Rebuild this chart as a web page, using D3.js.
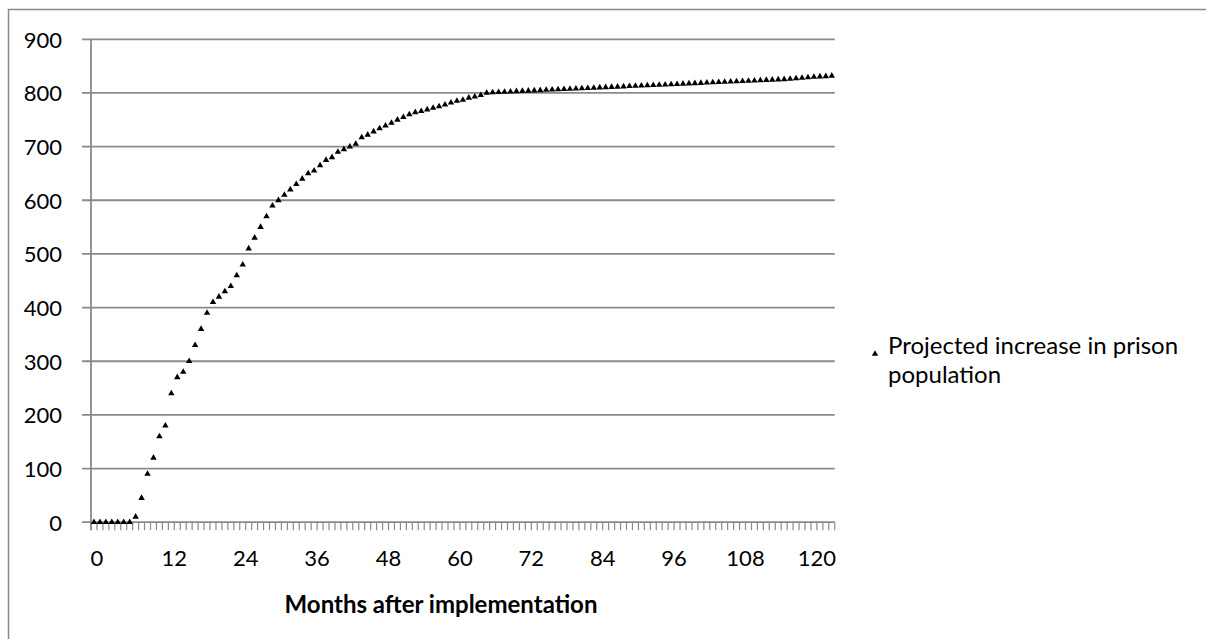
<!DOCTYPE html>
<html>
<head>
<meta charset="utf-8">
<script src="https://cdn.jsdelivr.net/npm/d3@7"></script>
<style>
  html, body { margin: 0; padding: 0; background: #fff; }
  svg { display: block; }
  text { font-family: Lato, "Open Sans", sans-serif; fill: #000; }
</style>
</head>
<body>
<svg id="chart" width="1206" height="639"></svg>
<script>
// ---- data ----
const seriesName = "Projected increase in prison population";
const xTitle = "Months after implementation";
const xTickLabels = [0, 12, 24, 36, 48, 60, 72, 84, 96, 108, 120];
const yTickLabels = [0, 100, 200, 300, 400, 500, 600, 700, 800, 900];
const prisonIncrease = [
  0, 0, 0, 0, 0, 0, 0, 10, 45, 90,
  120, 160, 180, 240, 270, 280, 300, 330, 360, 390,
  410, 420, 430, 440, 460, 480, 510, 530, 550, 570,
  590, 600, 610, 620, 630, 640, 650, 655, 665, 675,
  680, 690, 695, 700, 705, 717, 722, 728, 734, 739,
  744, 750, 755, 760, 764, 766, 769, 772, 775, 778,
  782, 785, 787, 791, 793, 796, 800, 801, 801.5, 802,
  802.5, 803, 803.5, 804, 804.5, 805, 805.5, 806, 806.5, 807,
  807.5, 808, 808.5, 809, 809.5, 810, 810.5, 811, 811.5, 812,
  812.5, 813, 813.5, 814, 814.5, 815, 815.5, 816, 816.5, 817,
  817.5, 818, 818.5, 819, 819.5, 820, 820.5, 821, 821.5, 822,
  822.5, 823, 823.5, 824, 824.5, 825, 825.5, 826, 827, 828,
  829, 830, 830.5, 831, 832
];

// ---- layout ----
const svg = d3.select("#chart");
const plot = { left: 91, top: 39.3, bottom: 522.2 };
const nCat = prisonIncrease.length;
const catW = 5.95;

const x = d3.scaleLinear().domain([-0.5, nCat - 0.5]).range([plot.left, plot.left + nCat * catW]);
const y = d3.scaleLinear().domain([0, 900]).range([plot.bottom, plot.top]);
const plotRight = x(nCat - 0.5);

const gridColor = "#8a8a8a";

// outer chart border
svg.append("path")
  .attr("d", "M8.5,640 L8.5,9.5 L1207,9.5")
  .attr("fill", "none").attr("stroke", "#8a8a8a").attr("stroke-width", 1.5);

// horizontal gridlines + y tick marks
const yG = svg.append("g");
yG.selectAll("line.grid").data(yTickLabels).join("line")
  .attr("class", "grid")
  .attr("x1", plot.left - 9).attr("x2", plotRight)
  .attr("y1", d => y(d)).attr("y2", d => y(d))
  .attr("stroke", gridColor).attr("stroke-width", 1.8);
yG.selectAll("text").data(yTickLabels).join("text")
  .attr("x", 62).attr("y", d => y(d))
  .attr("text-anchor", "end").attr("dominant-baseline", "central")
  .attr("font-size", 22)
  .text(d => d);

// y axis line
svg.append("line")
  .attr("x1", plot.left).attr("x2", plot.left)
  .attr("y1", plot.top).attr("y2", plot.bottom + 8)
  .attr("stroke", gridColor).attr("stroke-width", 1.8);

// x axis minor ticks at category boundaries
const boundaries = d3.range(nCat + 1).map(i => i - 0.5);
svg.append("g").selectAll("line").data(boundaries).join("line")
  .attr("x1", d => x(d)).attr("x2", d => x(d))
  .attr("y1", plot.bottom).attr("y2", plot.bottom + 8)
  .attr("stroke", gridColor).attr("stroke-width", 1.2);

// x tick labels
svg.append("g").selectAll("text").data(xTickLabels).join("text")
  .attr("x", d => x(d === 0 ? 0.5 : d + 1.5))
  .attr("y", 557)
  .attr("text-anchor", "middle").attr("dominant-baseline", "central")
  .attr("font-size", 22)
  .text(d => d);

// x axis title
svg.append("text")
  .attr("x", 441).attr("y", 603)
  .attr("text-anchor", "middle").attr("dominant-baseline", "central")
  .attr("font-size", 24).attr("font-weight", "bold")
  .text(xTitle);

// markers
const tri = d3.symbol().type(d3.symbolTriangle).size(18);
svg.append("g").selectAll("path").data(prisonIncrease).join("path")
  .attr("d", tri)
  .attr("transform", (d, i) => `translate(${x(i)},${y(d)})`)
  .attr("fill", "#000");

// legend
const leg = svg.append("g");
leg.append("path").attr("d", tri).attr("transform", "translate(875,354)").attr("fill", "#000");
const words = seriesName.split(" ");
const lines = [words.slice(0, 4).join(" "), words.slice(4).join(" ")];
leg.selectAll("text").data(lines).join("text")
  .attr("x", 888).attr("y", (d, i) => 344 + i * 29)
  .attr("dominant-baseline", "central")
  .attr("font-size", 24)
  .text(d => d);
</script>
</body>
</html>
